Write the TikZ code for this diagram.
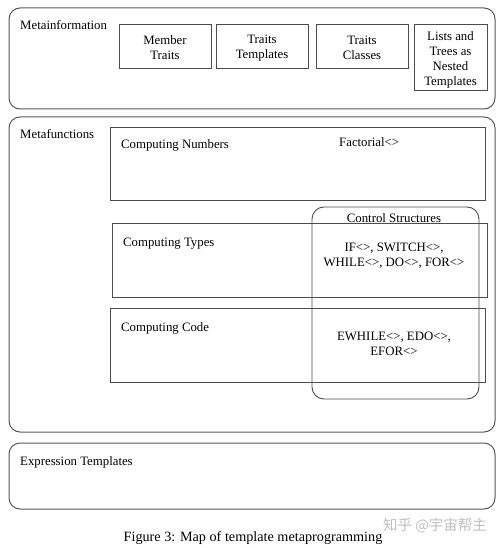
\documentclass[tikz,border=0pt]{standalone}
\usepackage{fontspec}
\setmainfont{Liberation Serif}
\newfontfamily\cjkfont{Noto Sans CJK SC}
\begin{document}
\begin{tikzpicture}[x=1pt,y=-1pt,
  outerbox/.style={draw=black!65,line width=1pt,rounded corners=11pt},
  innerbox/.style={draw=black!70,line width=0.9pt},
  ctrlbox/.style={draw=black!70,line width=0.9pt,rounded corners=12pt},
  lbl/.style={anchor=base west,inner sep=0pt,font=\fontsize{12.8}{15}\selectfont},
  ctext/.style={align=center,inner sep=0pt,font=\fontsize{12.8}{15}\selectfont}]
\useasboundingbox[fill=white] (0,0) rectangle (500,548);
% Metainformation
\draw[outerbox] (9,8) rectangle (495,109);
\node[lbl] (metainfo) at (20,30) {Metainformation};
\draw[innerbox] (119,24) rectangle (211,68);
\node[ctext] (member) at (165,48) {Member\\Traits};
\draw[innerbox] (216,24) rectangle (308,68);
\node[ctext] (ttempl) at (262,48) {Traits\\Templates};
\draw[innerbox] (316,24) rectangle (408,68);
\node[ctext] (tclass) at (362,48) {Traits\\Classes};
\draw[innerbox] (414,24) rectangle (487,90);
\node[ctext] (lists) at (450.5,59.5) {Lists and\\Trees as\\Nested\\Templates};
% Metafunctions
\draw[outerbox] (9,117) rectangle (495,432);
\node[lbl] (metafun) at (20,139) {Metafunctions};
\draw[innerbox] (110,127) rectangle (485,200);
\node[lbl] (cnum) at (121,149) {Computing Numbers};
\node[lbl] (fact) at (339,147) {Factorial<>};
\draw[innerbox] (112,223) rectangle (487,297);
\node[lbl] (ctype) at (123,246) {Computing Types};
\draw[innerbox] (110,308) rectangle (485,382);
\node[lbl] (ccode) at (121,331) {Computing Code};
\draw[ctrlbox] (312,207) rectangle (479,399);
\node[ctext,anchor=base] (ctrl) at (394,222) {Control Structures};
\node[ctext,anchor=base] (ctrl1) at (394,266) {IF<>, SWITCH<>,\\WHILE<>, DO<>, FOR<>};
\node[ctext,anchor=base] (ctrl2) at (394,355) {EWHILE<>, EDO<>,\\EFOR<>};
% Expression Templates
\draw[outerbox] (9,443) rectangle (495,509);
\node[lbl] (expr) at (20,465) {Expression Templates};
% caption
\node[anchor=base,inner sep=0pt,font=\fontsize{14.2}{17}\selectfont] (caption) at (253,541.5) {Figure 3: Map of template metaprogramming};
\node[anchor=base,inner sep=0pt,text=black!25,font=\cjkfont\fontsize{14.5}{16}\selectfont] (wm) at (435,530.5) {知乎 @宇宙帮主};
\end{tikzpicture}
\end{document}
